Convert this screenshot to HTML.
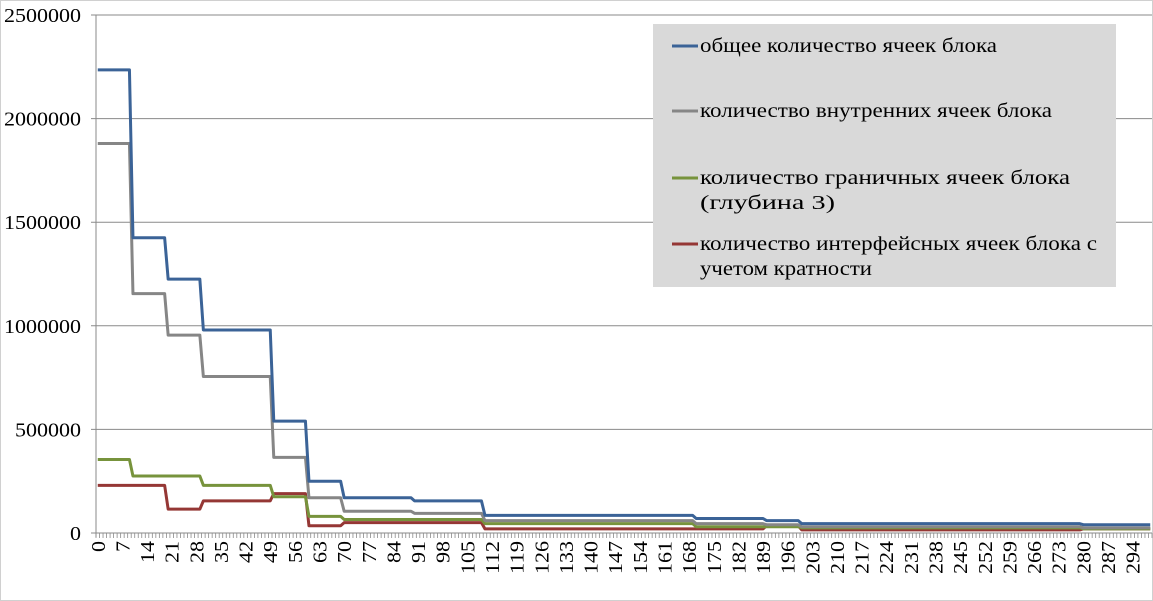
<!DOCTYPE html>
<html><head><meta charset="utf-8"><style>
html,body{margin:0;padding:0;background:#fff;}
svg{display:block;font-family:"Liberation Serif","DejaVu Serif",serif;}
</style></head><body>
<svg id="chart" width="1153" height="601" viewBox="0 0 1153 601">
<rect x="0.5" y="0.5" width="1152" height="600" fill="#fff" stroke="#d0d0d0"/>
<g id="grid"></g>
<g id="yaxis"></g>
<g id="xaxis"></g>
<g id="series"></g>
<g>
<rect x="653" y="24" width="463" height="263" fill="#d9d9d9"/>
<g><line x1="672" y1="46" x2="698" y2="46" stroke="#3b6397" stroke-width="3"/><text x="700" y="52" font-size="20" textLength="297" lengthAdjust="spacingAndGlyphs">общее количество ячеек блока</text></g>
<g><line x1="672" y1="111" x2="698" y2="111" stroke="#868686" stroke-width="3"/><text x="700" y="117" font-size="20" textLength="352" lengthAdjust="spacingAndGlyphs">количество внутренних ячеек блока</text></g>
<g><line x1="672" y1="178" x2="698" y2="178" stroke="#77933c" stroke-width="3"/><text x="700" y="184" font-size="20" textLength="370" lengthAdjust="spacingAndGlyphs">количество граничных ячеек блока</text><text x="700" y="209" font-size="20" textLength="135" lengthAdjust="spacingAndGlyphs">(глубина 3)</text></g>
<g><line x1="672" y1="244" x2="698" y2="244" stroke="#953735" stroke-width="3"/><text x="700" y="250" font-size="20" textLength="397" lengthAdjust="spacingAndGlyphs">количество интерфейсных ячеек блока с</text><text x="700" y="275" font-size="20" textLength="172" lengthAdjust="spacingAndGlyphs">учетом кратности</text></g>
</g>
</svg>
<script>
const N = 300;
const yTicks = [0, 500000, 1000000, 1500000, 2000000, 2500000];
const totalStarts = [0, 10, 20, 30, 50, 60, 70, 90, 110, 170, 190, 200, 280];
const totalVals = [2235000, 1425000, 1225000, 980000, 540000, 250000, 170000, 155000, 85000, 70000, 60000, 45000, 40000];
const internalStarts = [0, 10, 20, 30, 50, 60, 70, 90, 110, 170, 190, 200, 280];
const internalVals = [1880000, 1155000, 955000, 755000, 365000, 170000, 105000, 95000, 60000, 45000, 40000, 30000, 25000];
const boundaryStarts = [0, 10, 30, 50, 60, 70, 110, 170, 200, 280];
const boundaryVals = [355000, 275000, 230000, 175000, 80000, 65000, 45000, 30000, 25000, 20000];
const interfaceStarts = [0, 20, 30, 50, 60, 70, 110, 190, 200, 280];
const interfaceVals = [230000, 115000, 155000, 190000, 35000, 50000, 20000, 35000, 15000, 20000];

const X0 = 96, X1 = 1152, Y0 = 533, Y1 = 15, YMAX = 2500000;
const cw = (X1 - X0) / N;
const xs = i => X0 + (i + 0.5) * cw;
const ys = v => Y0 - (v / YMAX) * (Y0 - Y1);
const NS = "http://www.w3.org/2000/svg";
function mk(tag, attrs, parent) { const e = document.createElementNS(NS, tag); for (const k in attrs) e.setAttribute(k, attrs[k]); parent.appendChild(e); return e; }

const grid = document.getElementById('grid'), yax = document.getElementById('yaxis'), xax = document.getElementById('xaxis'), ser = document.getElementById('series');
yTicks.forEach(t => {
  const y = ys(t);
  if (t > 0) { const g = mk('line', {x1: X0 - 5, x2: X1, y1: y, y2: y, stroke: '#8a8a8a', 'stroke-width': 1}, grid);
    
     }
  const s = String(t);
  const tx = mk('text', {x: 81, y: y + 7, 'text-anchor': 'end', 'font-size': 20, fill: '#000', textLength: s.length * 11, lengthAdjust: 'spacingAndGlyphs'}, yax);
  tx.textContent = s;
  
  
});
mk('line', {x1: X0, x2: X0, y1: Y1, y2: Y0 + 4, stroke: '#8a8a8a'}, yax);
mk('line', {x1: X0 - 5, x2: X1, y1: Y0, y2: Y0, stroke: '#8a8a8a'}, xax);
for (let i = 0; i <= N; i++) {
  const x = X0 + i * cw;
  mk('line', {x1: x, x2: x, y1: Y0, y2: Y0 + 5, stroke: '#8a8a8a', 'stroke-width': 0.8}, xax);
}
for (let i = 0; i < N; i += 7) {
  const x = xs(i);
  const s = String(i);
  const t = mk('text', {x: 0, y: 0, 'font-size': 20, 'text-anchor': 'end', textLength: s.length * 11, lengthAdjust: 'spacingAndGlyphs', transform: `translate(${x + 7},${Y0 + 8}) rotate(-90)`}, xax);
  t.textContent = s;
  
  
}
function expand(starts, vals) { const out = []; let k = 0; for (let i = 0; i < N; i++) { while (k + 1 < starts.length && i >= starts[k + 1]) k++; out.push(vals[k]); } return out; }
const series = [
  ['series-interface', interfaceStarts, interfaceVals, '#953735'],
  ['series-boundary', boundaryStarts, boundaryVals, '#77933c'],
  ['series-internal', internalStarts, internalVals, '#868686'],
  ['series-total', totalStarts, totalVals, '#3b6397']
];
series.forEach(s => {
  const v = expand(s[1], s[2]);
  const p = mk('polyline', {points: v.map((d, i) => xs(i).toFixed(2) + ',' + ys(d).toFixed(2)).join(' '), fill: 'none', stroke: s[3], 'stroke-width': 3, 'stroke-linejoin': 'round'}, ser);
  
  
});
</script>
</body></html>
